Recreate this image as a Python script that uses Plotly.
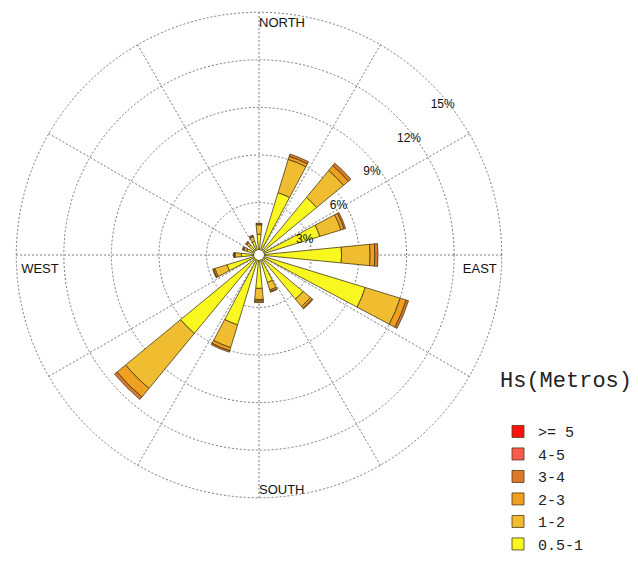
import plotly.graph_objects as go

directions = [0, 22.5, 45, 67.5, 90, 112.5, 135, 157.5, 180, 202.5, 225, 247.5, 270, 292.5, 315, 337.5]
bins = ["0.5-1", "1-2", "2-3", "3-4", "4-5", ">= 5"]
colors = ["#F8F820", "#F0BC30", "#F0A020", "#DC7A2A", "#FF5A4E", "#FF1010"]

hs_05_1 = [1.0, 3.8, 4.4, 3.7, 4.9, 6.7, 3.3, 1.5, 1.8, 4.3, 6.1, 1.8, 0.8, 0.5, 0.5, 0.6]
hs_1_2  = [0.6, 2.2, 2.2, 1.4, 1.8, 2.3, 0.6, 0.5, 0.7, 1.5, 4.5, 0.8, 0.4, 0.2, 0.2, 0.3]
hs_2_3  = [0.05, 0.2, 0.4, 0.2, 0.3, 0.4, 0.15, 0.1, 0.1, 0.2, 0.7, 0.1, 0.05, 0.05, 0.05, 0.05]
hs_3_4  = [0.05, 0.15, 0.2, 0.1, 0.2, 0.15, 0.05, 0.05, 0.1, 0.1, 0.2, 0.05, 0.05, 0.05, 0.05, 0.05]
hs_4_5  = [0] * 16
hs_ge5  = [0] * 16
series = [hs_05_1, hs_1_2, hs_2_3, hs_3_4, hs_4_5, hs_ge5]

ring_vals = [3, 6, 9, 12, 15]
ring_text = ["3%", "6%", "9%", "12%", "15%"]
label_theta = 45
compass_names = ["NORTH", "EAST", "SOUTH", "WEST"]
compass_theta = [0, 92, 180, 268]
compass_r = [14.7, 14.7, 15.0, 14.7]
compass_pos = ["bottom right", "bottom left", "top right", "bottom right"]

fig = go.Figure()
for name, col, vals in zip(bins, colors, series):
    fig.add_trace(go.Barpolar(
        r=vals, theta=directions, width=11, name=name,
        marker=dict(color=col, line=dict(color="#4a3a18", width=0.8)),
    ))

fig.add_trace(go.Scatterpolar(
    r=compass_r, theta=compass_theta, mode="text", text=compass_names,
    textposition=compass_pos, showlegend=False,
    textfont=dict(family="Liberation Sans", size=13, color="#111"),
    hoverinfo="skip",
))

fig.add_trace(go.Scatterpolar(
    r=ring_vals, theta=[label_theta] * len(ring_vals), mode="text",
    text=["<br>" + t for t in ring_text], textposition="bottom right",
    showlegend=False, hoverinfo="skip",
    textfont=dict(family="Liberation Sans", size=12, color="#111"),
))

fig.update_layout(
    width=638, height=568,
    margin=dict(l=0, r=0, t=0, b=0),
    paper_bgcolor="white",
    barmode="stack",
    polar=dict(
        domain=dict(x=[15 / 638, 503 / 638], y=[69 / 568, 557 / 568]),
        bgcolor="white",
        hole=0.02,
        radialaxis=dict(
            range=[0, 15.08], tickvals=ring_vals, showticklabels=False,
            showline=False, ticks="",
            gridcolor="#777", griddash="2px,2px", gridwidth=1,
        ),
        angularaxis=dict(
            rotation=90, direction="clockwise", thetaunit="degrees",
            tickvals=list(range(0, 360, 30)), showticklabels=False, ticks="",
            showline=False, gridcolor="#777", griddash="2px,2px", gridwidth=1,
        ),
    ),
    legend=dict(
        x=498 / 638, y=1 - 358 / 568, xanchor="left", yanchor="top",
        traceorder="reversed",
        title=dict(text="Hs(Metros)<br><span style='font-size:6px'> </span>",
                   font=dict(family="Liberation Mono", size=22, color="#222")),
        font=dict(family="Liberation Mono", size=15, color="#222"),
        bgcolor="rgba(0,0,0,0)",
    ),
)

fig.write_html("out.html")
